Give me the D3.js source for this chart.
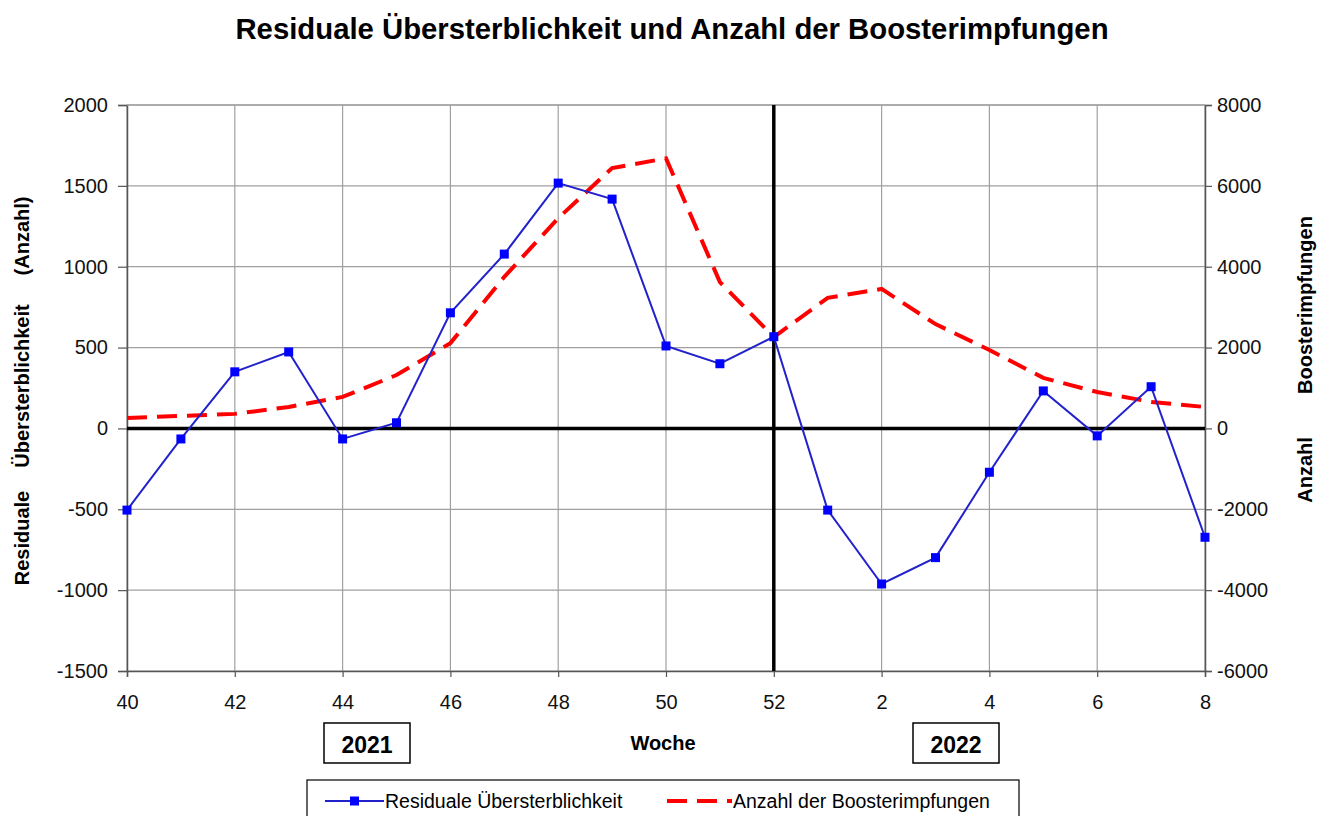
<!DOCTYPE html>
<html>
<head>
<meta charset="utf-8">
<script src="https://cdn.jsdelivr.net/npm/d3@7"></script>
<style>
  body { margin: 0; background: #fff; }
  svg { font-family: "Liberation Sans", Arial, sans-serif; }
</style>
</head>
<body>
<svg id="chart" width="1325" height="816"></svg>
<script>
// Weeks (2021: 40-52, 2022: 1-8)
let weeks = ["40","41","42","43","44","45","46","47","48","49","50","51","52","1","2","3","4","5","6","7","8"];
let tickWeeks = ["40","42","44","46","48","50","52","2","4","6","8"];

// Residuale Übersterblichkeit (left axis)
let excess = [-505, -65, 350, 473, -65, 35, 715, 1078, 1517, 1418, 510, 400, 567, -505, -962, -799, -271, 232, -46, 258, -673];

// Anzahl der Boosterimpfungen (right axis)
let booster = [260, 310, 360, 530, 780, 1320, 2110, 3750, 5200, 6440, 6680, 3620, 2260, 3230, 3450, 2580, 1940, 1250, 900, 655, 530];

let leftTicks = [-1500, -1000, -500, 0, 500, 1000, 1500, 2000];
let rightTicks = [-6000, -4000, -2000, 0, 2000, 4000, 6000, 8000];

let margin = { top: 105, right: 120, bottom: 145, left: 127 };
const W = 1325, H = 816;
const plotW = W - margin.left - margin.right;
const plotH = H - margin.top - margin.bottom;

let svg = d3.select("#chart");

// Scales
const x = d3.scalePoint().domain(weeks).range([margin.left, margin.left + plotW]);
const yL = d3.scaleLinear().domain([-1500, 2000]).range([margin.top + plotH, margin.top]);
const yR = d3.scaleLinear().domain([-6000, 8000]).range([margin.top + plotH, margin.top]);

// Title
svg.append("text")
  .attr("x", 672).attr("y", 39)
  .attr("text-anchor", "middle")
  .attr("font-size", "29.3px").attr("font-weight", "bold")
  .text("Residuale Übersterblichkeit und Anzahl der Boosterimpfungen");

// Grid
let grid = svg.append("g");
grid.selectAll(".hgrid").data(leftTicks).enter().append("line")
  .attr("x1", margin.left).attr("x2", margin.left + plotW)
  .attr("y1", d => yL(d)).attr("y2", d => yL(d))
  .attr("stroke", "#a0a0a0").attr("stroke-width", 1.2);
grid.selectAll(".vgrid").data(tickWeeks).enter().append("line")
  .attr("x1", d => x(d)).attr("x2", d => x(d))
  .attr("y1", margin.top).attr("y2", margin.top + plotH)
  .attr("stroke", "#a0a0a0").attr("stroke-width", 1.2);

// Axes (plain hyphen for negative numbers)
let plain = d => String(d);
let axisL = d3.axisLeft(yL).tickValues(leftTicks).tickSize(9).tickPadding(10).tickFormat(plain);
let axisR = d3.axisRight(yR).tickValues(rightTicks).tickSize(7).tickPadding(5).tickFormat(plain);
let axisB = d3.axisBottom(x).tickValues(tickWeeks).tickSize(6).tickPadding(18);

function styleAxis(g) {
  g.select(".domain").attr("stroke", "#555").attr("stroke-width", 1.5);
  g.selectAll(".tick line").attr("stroke", "#555").attr("stroke-width", 1.2);
  g.selectAll(".tick text").attr("font-size", "20px").attr("fill", "#111")
    .style("font-family", "'Liberation Sans', Arial, sans-serif");
}

svg.append("g").attr("transform", `translate(${margin.left},0)`).call(axisL).call(styleAxis);
svg.append("g").attr("transform", `translate(${margin.left + plotW},0)`).call(axisR).call(styleAxis);
svg.append("g").attr("transform", `translate(0,${margin.top + plotH})`).call(axisB).call(styleAxis);
svg.append("line")
  .attr("x1", margin.left).attr("x2", margin.left + plotW)
  .attr("y1", margin.top).attr("y2", margin.top)
  .attr("stroke", "#a0a0a0").attr("stroke-width", 1.5);

// Zero line and year boundary
svg.append("line")
  .attr("x1", margin.left).attr("x2", margin.left + plotW)
  .attr("y1", yL(0)).attr("y2", yL(0))
  .attr("stroke", "#000").attr("stroke-width", 3.5);
svg.append("line")
  .attr("x1", x("52")).attr("x2", x("52"))
  .attr("y1", margin.top).attr("y2", margin.top + plotH)
  .attr("stroke", "#000").attr("stroke-width", 3.5);

// Booster line (red dashed)
let boosterLine = d3.line().x((d, i) => x(weeks[i])).y(d => yR(d));
svg.append("path")
  .datum(booster)
  .attr("d", boosterLine)
  .attr("fill", "none")
  .attr("stroke", "#ff0000")
  .attr("stroke-width", 4)
  .attr("stroke-dasharray", "20,10");

// Excess mortality line (blue with squares)
let excessLine = d3.line().x((d, i) => x(weeks[i])).y(d => yL(d));
svg.append("path")
  .datum(excess)
  .attr("d", excessLine)
  .attr("fill", "none")
  .attr("stroke", "#2222cc")
  .attr("stroke-width", 2);

svg.selectAll(".marker").data(excess).enter().append("rect")
  .attr("x", (d, i) => x(weeks[i]) - 4.5)
  .attr("y", d => yL(d) - 4.5)
  .attr("width", 9).attr("height", 9)
  .attr("fill", "#0000ff");

// Axis titles (words spread out like the original)
let leftWords = [{ t: "Residuale", c: 538 }, { t: "Übersterblichkeit", c: 386 }, { t: "(Anzahl)", c: 236 }];
leftWords.forEach(w => {
  svg.append("text")
    .attr("transform", `translate(29,${w.c}) rotate(-90)`)
    .attr("text-anchor", "middle")
    .attr("font-size", "20px").attr("font-weight", "bold")
    .text(w.t);
});

let rightWords = [{ t: "Anzahl", c: 470 }, { t: "Boosterimpfungen", c: 305 }];
rightWords.forEach(w => {
  svg.append("text")
    .attr("transform", `translate(1312,${w.c}) rotate(-90)`)
    .attr("text-anchor", "middle")
    .attr("font-size", "20px").attr("font-weight", "bold")
    .text(w.t);
});

svg.append("text")
  .attr("x", 663).attr("y", 750)
  .attr("text-anchor", "middle")
  .attr("font-size", "20px").attr("font-weight", "bold")
  .text("Woche");

// Year boxes
let years = [{ label: "2021", cx: 367 }, { label: "2022", cx: 956 }];
years.forEach(yr => {
  svg.append("rect")
    .attr("x", yr.cx - 43).attr("y", 723)
    .attr("width", 86).attr("height", 40)
    .attr("fill", "#fff").attr("stroke", "#000").attr("stroke-width", 1.5);
  svg.append("text")
    .attr("x", yr.cx).attr("y", 753)
    .attr("text-anchor", "middle")
    .attr("font-size", "23px").attr("font-weight", "bold")
    .text(yr.label);
});

// Legend
let legend = svg.append("g");
legend.append("rect")
  .attr("x", 307).attr("y", 780)
  .attr("width", 712).attr("height", 40)
  .attr("fill", "#fff").attr("stroke", "#000").attr("stroke-width", 1.2);
legend.append("line")
  .attr("x1", 325).attr("x2", 384).attr("y1", 801).attr("y2", 801)
  .attr("stroke", "#2222cc").attr("stroke-width", 2);
legend.append("rect")
  .attr("x", 350).attr("y", 796.5).attr("width", 9).attr("height", 9)
  .attr("fill", "#0000ff");
legend.append("text")
  .attr("x", 385).attr("y", 808)
  .attr("font-size", "19.5px")
  .text("Residuale Übersterblichkeit");
legend.append("line")
  .attr("x1", 667).attr("x2", 732).attr("y1", 801).attr("y2", 801)
  .attr("stroke", "#ff0000").attr("stroke-width", 4)
  .attr("stroke-dasharray", "20,10");
legend.append("text")
  .attr("x", 733).attr("y", 808)
  .attr("font-size", "19.5px")
  .text("Anzahl der Boosterimpfungen");
</script>
</body>
</html>
